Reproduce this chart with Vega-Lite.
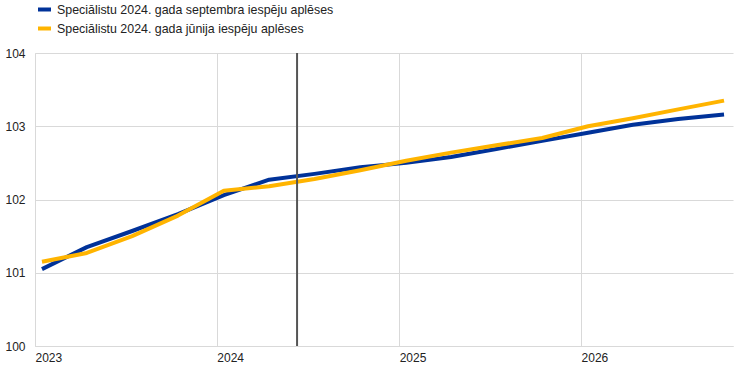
{
  "$schema": "https://vega.github.io/schema/vega-lite/v6.json",
  "width": 698,
  "height": 293,
  "autosize": {"type": "none"},
  "padding": {"left": 35, "top": 53, "right": 11, "bottom": 29},
  "background": "white",
  "config": {
    "view": {"stroke": null},
    "font": "Liberation Sans",
    "axis": {"labelFont": "Liberation Sans", "labelFontSize": 12, "labelColor": "#222222", "gridColor": "#d9d9d9", "gridWidth": 1, "domainColor": "#d9d9d9", "ticks": false, "title": null}
  },
  "datasets": {
    "series": [
      {"date": "2023-01-15", "series": "Speciālistu 2024. gada septembra iespēju aplēses", "value": 101.05},
      {"date": "2023-04-15", "series": "Speciālistu 2024. gada septembra iespēju aplēses", "value": 101.35},
      {"date": "2023-07-15", "series": "Speciālistu 2024. gada septembra iespēju aplēses", "value": 101.57},
      {"date": "2023-10-15", "series": "Speciālistu 2024. gada septembra iespēju aplēses", "value": 101.8},
      {"date": "2024-01-15", "series": "Speciālistu 2024. gada septembra iespēju aplēses", "value": 102.06},
      {"date": "2024-04-15", "series": "Speciālistu 2024. gada septembra iespēju aplēses", "value": 102.27},
      {"date": "2024-07-15", "series": "Speciālistu 2024. gada septembra iespēju aplēses", "value": 102.35},
      {"date": "2024-10-15", "series": "Speciālistu 2024. gada septembra iespēju aplēses", "value": 102.44},
      {"date": "2025-01-15", "series": "Speciālistu 2024. gada septembra iespēju aplēses", "value": 102.5},
      {"date": "2025-04-15", "series": "Speciālistu 2024. gada septembra iespēju aplēses", "value": 102.58},
      {"date": "2025-07-15", "series": "Speciālistu 2024. gada septembra iespēju aplēses", "value": 102.69},
      {"date": "2025-10-15", "series": "Speciālistu 2024. gada septembra iespēju aplēses", "value": 102.8},
      {"date": "2026-01-15", "series": "Speciālistu 2024. gada septembra iespēju aplēses", "value": 102.91},
      {"date": "2026-04-15", "series": "Speciālistu 2024. gada septembra iespēju aplēses", "value": 103.02},
      {"date": "2026-07-15", "series": "Speciālistu 2024. gada septembra iespēju aplēses", "value": 103.1},
      {"date": "2026-10-15", "series": "Speciālistu 2024. gada septembra iespēju aplēses", "value": 103.16},
      {"date": "2023-01-15", "series": "Speciālistu 2024. gada jūnija iespēju aplēses", "value": 101.15},
      {"date": "2023-04-15", "series": "Speciālistu 2024. gada jūnija iespēju aplēses", "value": 101.27},
      {"date": "2023-07-15", "series": "Speciālistu 2024. gada jūnija iespēju aplēses", "value": 101.5},
      {"date": "2023-10-15", "series": "Speciālistu 2024. gada jūnija iespēju aplēses", "value": 101.78},
      {"date": "2024-01-15", "series": "Speciālistu 2024. gada jūnija iespēju aplēses", "value": 102.12},
      {"date": "2024-04-15", "series": "Speciālistu 2024. gada jūnija iespēju aplēses", "value": 102.18},
      {"date": "2024-07-15", "series": "Speciālistu 2024. gada jūnija iespēju aplēses", "value": 102.28},
      {"date": "2024-10-15", "series": "Speciālistu 2024. gada jūnija iespēju aplēses", "value": 102.4},
      {"date": "2025-01-15", "series": "Speciālistu 2024. gada jūnija iespēju aplēses", "value": 102.53},
      {"date": "2025-04-15", "series": "Speciālistu 2024. gada jūnija iespēju aplēses", "value": 102.64},
      {"date": "2025-07-15", "series": "Speciālistu 2024. gada jūnija iespēju aplēses", "value": 102.74},
      {"date": "2025-10-15", "series": "Speciālistu 2024. gada jūnija iespēju aplēses", "value": 102.84},
      {"date": "2026-01-15", "series": "Speciālistu 2024. gada jūnija iespēju aplēses", "value": 103.0},
      {"date": "2026-04-15", "series": "Speciālistu 2024. gada jūnija iespēju aplēses", "value": 103.11},
      {"date": "2026-07-15", "series": "Speciālistu 2024. gada jūnija iespēju aplēses", "value": 103.23},
      {"date": "2026-10-15", "series": "Speciālistu 2024. gada jūnija iespēju aplēses", "value": 103.35}
    ],
    "marker": [{"date": "2024-06-10"}]
  },
  "layer": [
    {
      "data": {"name": "series"},
      "mark": {"type": "line", "strokeWidth": 4, "strokeJoin": "round", "strokeCap": "butt"},
      "encoding": {
        "x": {
          "field": "date", "type": "temporal",
          "scale": {"type": "utc", "domain": [{"year": 2023, "month": 1, "date": 1, "utc": true}, {"year": 2026, "month": 11, "date": 2, "utc": true}]},
          "axis": {
            "values": [{"year": 2023, "month": 1, "date": 1, "utc": true}, {"year": 2024, "month": 1, "date": 1, "utc": true}, {"year": 2025, "month": 1, "date": 1, "utc": true}, {"year": 2026, "month": 1, "date": 1, "utc": true}],
            "format": "%Y", "formatType": "utc", "labelAlign": "left", "labelDx": -3, "labelPadding": 6, "labelBaseline": "top", "grid": true, "labelFlush": false, "labelOverlap": false
          }
        },
        "y": {
          "field": "value", "type": "quantitative",
          "scale": {"domain": [100, 104], "zero": false, "nice": false},
          "axis": {"values": [100, 101, 102, 103, 104], "labelPadding": 10, "grid": true, "labelFlush": false}
        },
        "color": {
          "field": "series", "type": "nominal",
          "scale": {"domain": ["Speciālistu 2024. gada septembra iespēju aplēses", "Speciālistu 2024. gada jūnija iespēju aplēses"], "range": ["#003299", "#FFB400"]},
          "legend": {
            "orient": "none", "legendX": 1, "legendY": -52, "title": null, "padding": 0,
            "symbolType": "stroke", "symbolSize": 169, "symbolStrokeWidth": 4,
            "labelFontSize": 12.4, "labelColor": "#222222", "labelOffset": 4, "rowPadding": 2, "labelLimit": 400
          }
        }
      }
    },
    {
      "data": {"name": "marker"},
      "mark": {"type": "rule", "color": "#555555", "strokeWidth": 2},
      "encoding": {"x": {"field": "date", "type": "temporal"}}
    }
  ]
}
